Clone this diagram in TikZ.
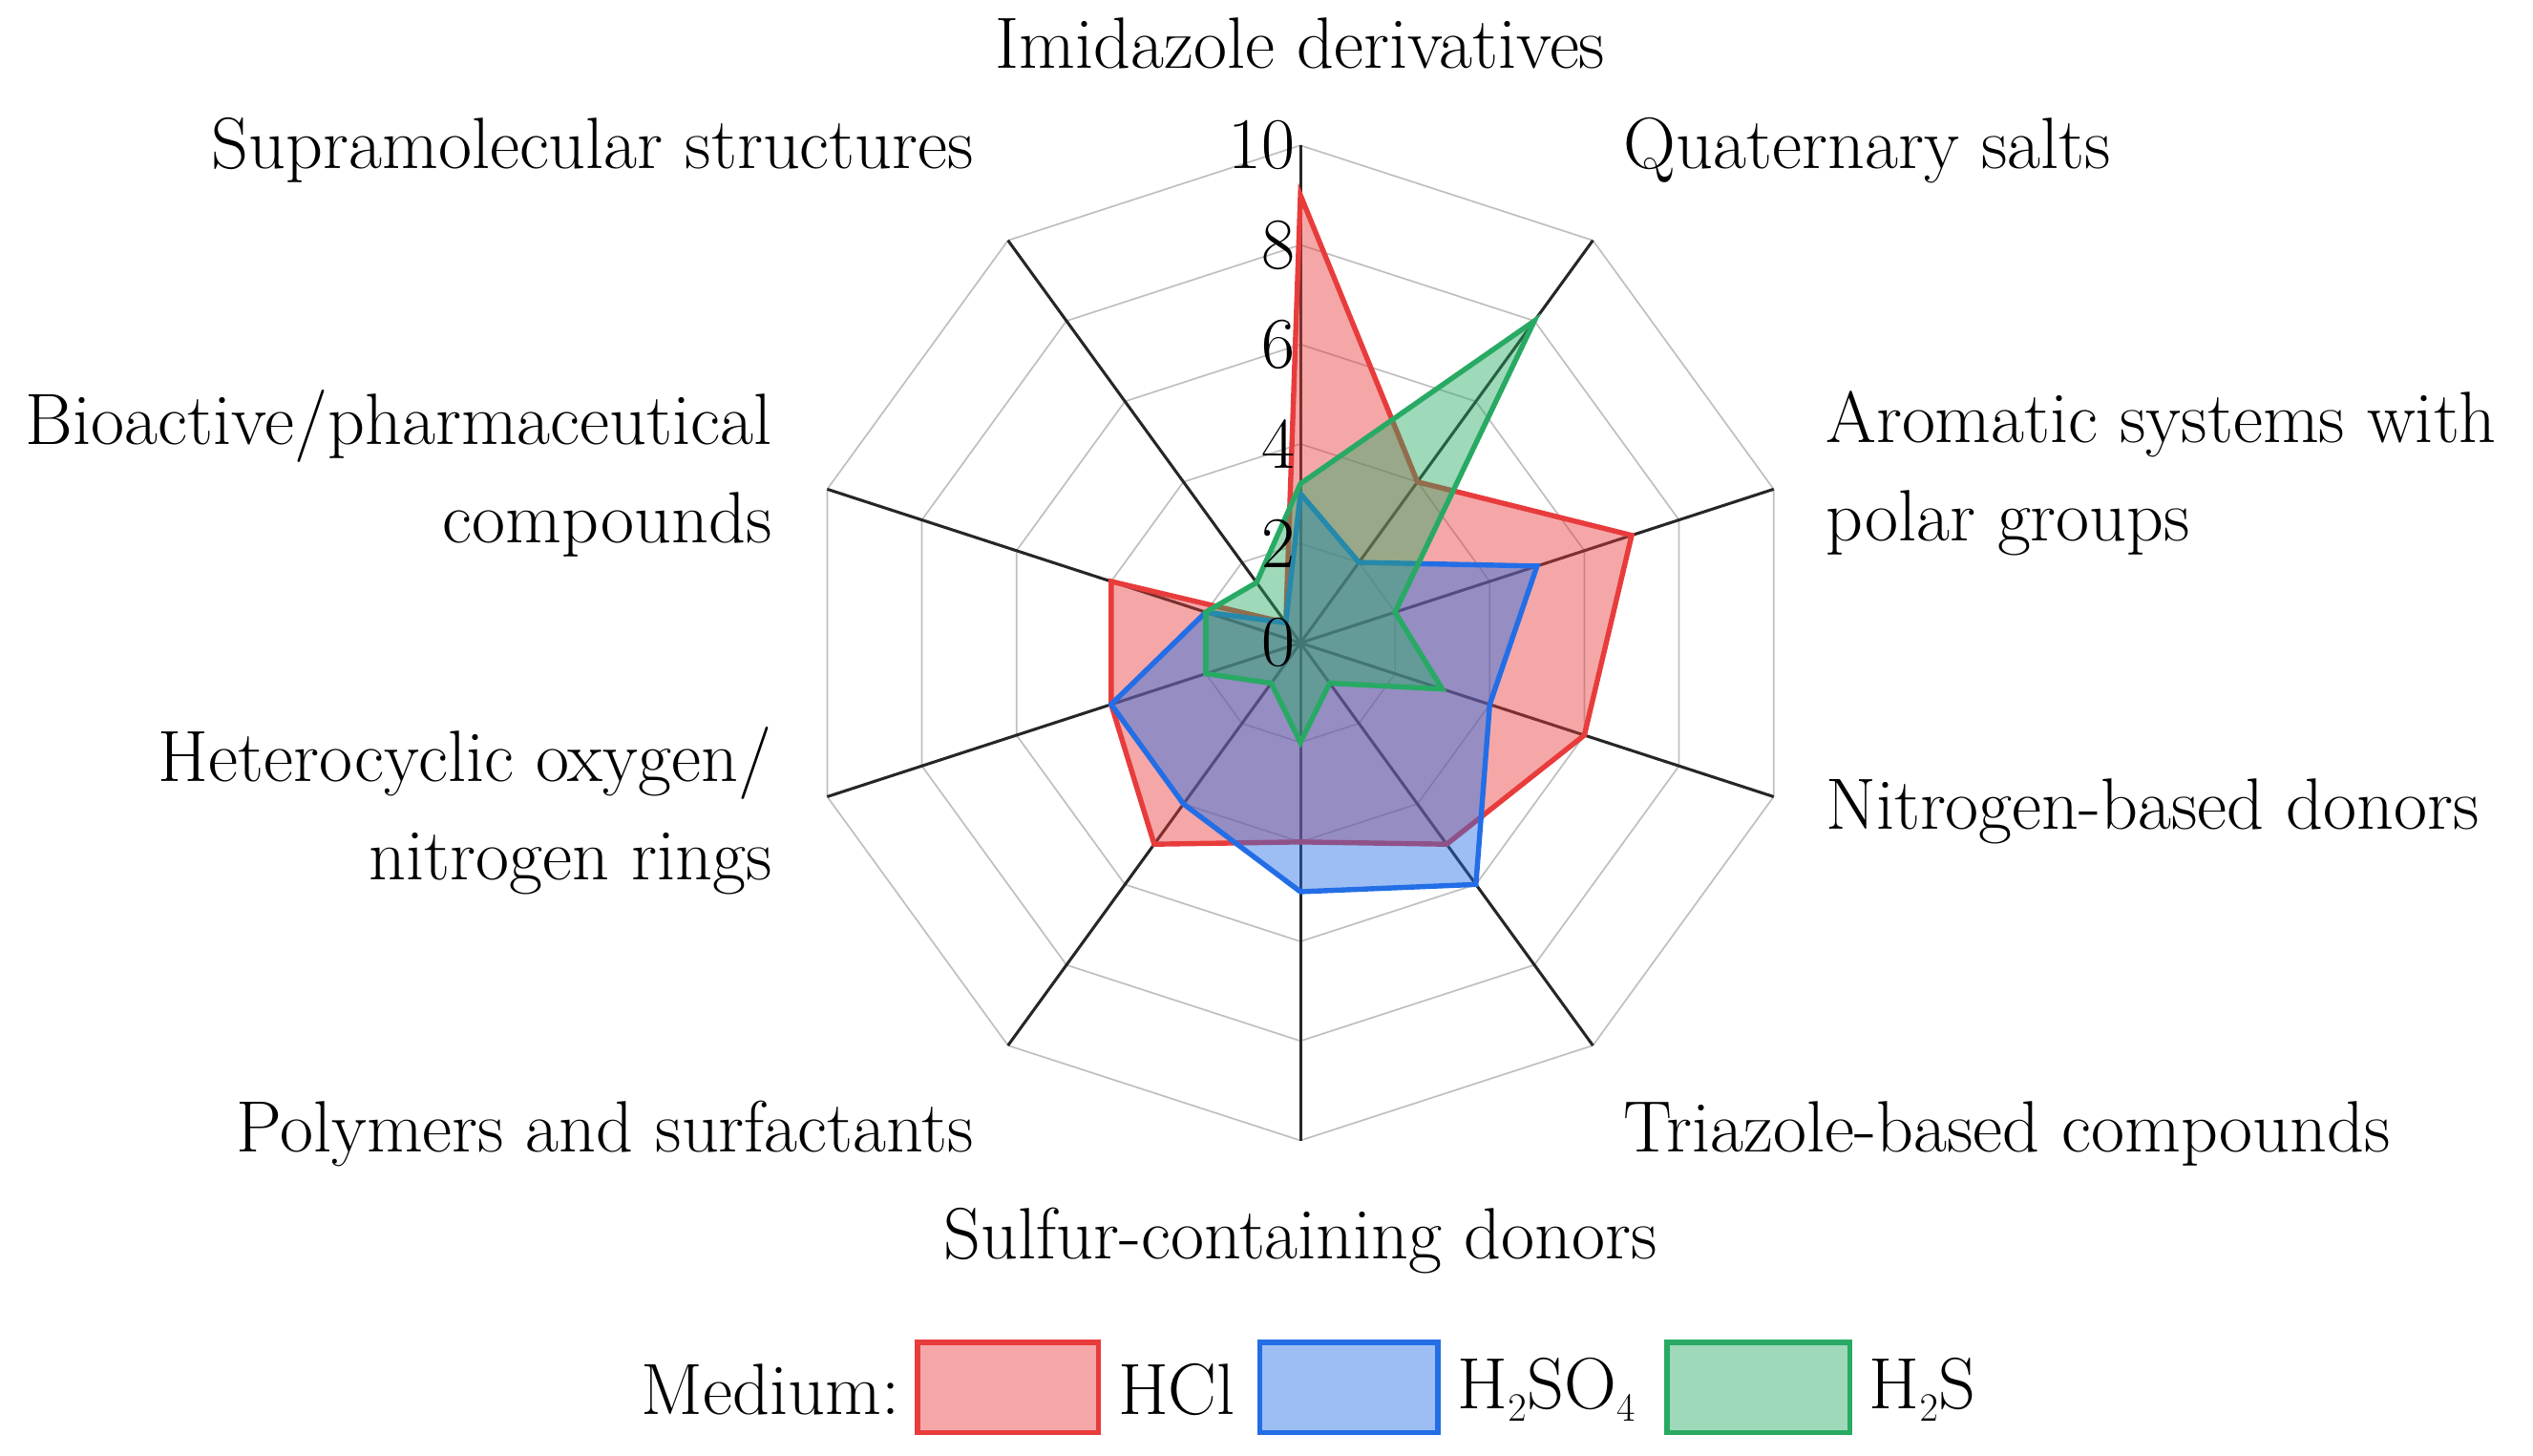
\documentclass[tikz,border=0pt]{standalone}
\begin{document}
\begin{tikzpicture}[x=1pt,y=-1pt,
  lab/.style={font=\fontsize{45}{61}\selectfont,inner sep=0pt},
  ser/.style={line width=3.2pt,line join=miter},
]
\useasboundingbox (0,0) rectangle (1568,901);
\definecolor{rc}{RGB}{232,60,60}\definecolor{bc}{RGB}{35,110,230}\definecolor{gc}{RGB}{40,170,100}
\newcommand{\rp}[2]{({805+30.8*(#2)*sin(36*(#1))},{398-30.8*(#2)*cos(36*(#1))})}
% grid
\foreach \r in {2,4,6,8,10}{
  \draw[gray!50,line width=1pt] \rp{0}{\r} \foreach \k in {1,...,9}{-- \rp{\k}{\r}} -- cycle;}
\foreach \k in {0,...,9}{\draw[black!85,line width=1.8pt] (805,398) -- \rp{\k}{10};}
% series
\draw[ser,draw=rc,fill=rc,fill opacity=0.45] \rp{0}{9} -- \rp{1}{4} -- \rp{2}{7} -- \rp{3}{6} -- \rp{4}{5} -- \rp{5}{4} -- \rp{6}{5} -- \rp{7}{4} -- \rp{8}{4} -- \rp{9}{0.5} -- cycle;
\draw[ser,draw=bc,fill=bc,fill opacity=0.45] \rp{0}{3} -- \rp{1}{2} -- \rp{2}{5} -- \rp{3}{4} -- \rp{4}{6} -- \rp{5}{5} -- \rp{6}{4} -- \rp{7}{4} -- \rp{8}{2} -- \rp{9}{0.5} -- cycle;
\draw[ser,draw=gc,fill=gc,fill opacity=0.45] \rp{0}{3.2} -- \rp{1}{8} -- \rp{2}{2} -- \rp{3}{3} -- \rp{4}{1} -- \rp{5}{2} -- \rp{6}{1} -- \rp{7}{2} -- \rp{8}{2} -- \rp{9}{1.5} -- cycle;
% ticks
\foreach \v in {0,2,4,6,8,10}{\node[lab,anchor=east] (t\v) at (802,{398-30.8*\v}) {\v};}
% labels
\node[lab] (l0) at (805,27) {Imidazole derivatives};
\node[lab,anchor=west] (l1) at (1005,93) {Quaternary salts};
\node[lab,anchor=west,align=left] (l2) at (1130,293) {Aromatic systems with\\polar groups};
\node[lab,anchor=west] (l3) at (1130,502) {Nitrogen-based donors};
\node[lab,anchor=west] (l4) at (1005,702) {Triazole-based compounds};
\node[lab] (l5) at (805,768) {Sulfur-containing donors};
\node[lab,anchor=east] (l6) at (603,702) {Polymers and surfactants};
\node[lab,anchor=east,align=right] (l7) at (478,502) {Heterocyclic oxygen/\\nitrogen rings};
\node[lab,anchor=east,align=right] (l8) at (478,293) {Bioactive/pharmaceutical\\compounds};
\node[lab,anchor=east] (l9) at (603,93) {Supramolecular structures};
% legend
\node[lab,anchor=east] (med) at (557,860) {Medium:};
\draw[ser,draw=rc,fill=rc,fill opacity=0.45] (568,831) rectangle (680,887);
\node[lab,anchor=west] (lh) at (692,860) {HCl};
\draw[ser,draw=bc,fill=bc,fill opacity=0.45] (780,831) rectangle (890,887);
\node[lab,anchor=west] (ls) at (902,860) {H$_2$SO$_4$};
\draw[ser,draw=gc,fill=gc,fill opacity=0.45] (1032,831) rectangle (1145,887);
\node[lab,anchor=west] (lg) at (1157,860) {H$_2$S};
\end{tikzpicture}
\end{document}
